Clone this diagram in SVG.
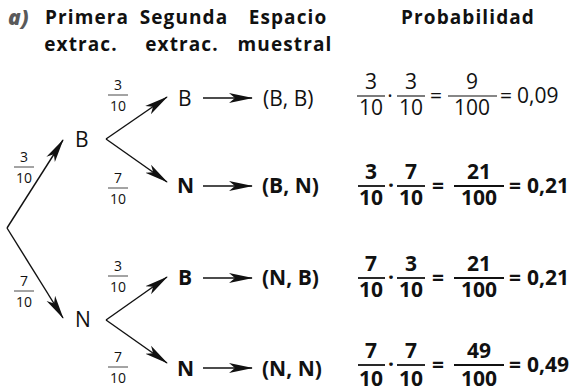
<svg xmlns="http://www.w3.org/2000/svg" width="579" height="391" viewBox="0 0 579 391">
<style>
text{font-family:"Open Sans","Noto Sans","Liberation Sans",sans-serif;fill:#111}
.h{font-size:19px;font-weight:bold;text-anchor:middle;letter-spacing:1.1px}
.a{font-size:21px;font-weight:800;font-style:italic;fill:#5a5a5a}
.lb{font-size:21px}
.b{font-weight:bold}
.sf{font-size:14px;text-anchor:middle}
.f{font-size:21px;text-anchor:middle}
.bar{stroke:#111;stroke-width:1.1}
.bbar{stroke:#111;stroke-width:1.8}
.sbar{stroke:#333;stroke-width:0.9}
.con{stroke:#111;stroke-width:1.4;fill:none}
</style>
<defs>
<marker id="ah" markerUnits="userSpaceOnUse" markerWidth="24" markerHeight="12" viewBox="0 0 24 12" refX="23" refY="6" orient="auto">
<path d="M0,1 L24,6 L0,11 L6,6 Z" fill="#111"/>
</marker>
</defs>
<g id="header">
<text class="a" x="8" y="25">a)</text>
<text class="h" x="87" y="24">Primera</text>
<text class="h" x="184" y="24">Segunda</text>
<text class="h" x="288" y="24">Espacio</text>
<text class="h" x="468" y="24">Probabilidad</text>
<text class="h" x="81" y="51">extrac.</text>
<text class="h" x="182" y="51">extrac.</text>
<text class="h" x="285" y="51">muestral</text>
</g>
<g id="connectors">
<line class="con" x1="7" y1="228" x2="63" y2="140" marker-end="url(#ah)"/>
<line class="con" x1="7" y1="228" x2="63" y2="318" marker-end="url(#ah)"/>
<line class="con" x1="106" y1="139" x2="167" y2="97" marker-end="url(#ah)"/>
<line class="con" x1="106" y1="139" x2="167" y2="182" marker-end="url(#ah)"/>
<line class="con" x1="106" y1="320" x2="167" y2="277" marker-end="url(#ah)"/>
<line class="con" x1="106" y1="320" x2="167" y2="363" marker-end="url(#ah)"/>
<line class="con" x1="203" y1="98" x2="252" y2="98" marker-end="url(#ah)"/>
<line class="con" x1="203" y1="186" x2="252" y2="186" marker-end="url(#ah)"/>
<line class="con" x1="203" y1="278" x2="252" y2="278" marker-end="url(#ah)"/>
<line class="con" x1="203" y1="368" x2="252" y2="368" marker-end="url(#ah)"/>
</g>
<g id="branch-labels">
<text class="sf" x="24" y="162">3</text><line class="sbar" x1="14" y1="167" x2="34" y2="167"/><text class="sf" x="24" y="183">10</text>
<text class="sf" x="24" y="286">7</text><line class="sbar" x1="14" y1="291" x2="34" y2="291"/><text class="sf" x="24" y="307">10</text>
<text class="sf" x="118" y="90">3</text><line class="sbar" x1="108" y1="95" x2="128" y2="95"/><text class="sf" x="118" y="111">10</text>
<text class="sf" x="118" y="183">7</text><line class="sbar" x1="108" y1="188" x2="128" y2="188"/><text class="sf" x="118" y="204">10</text>
<text class="sf" x="118" y="271">3</text><line class="sbar" x1="108" y1="276" x2="128" y2="276"/><text class="sf" x="118" y="292">10</text>
<text class="sf" x="118" y="362">7</text><line class="sbar" x1="108" y1="367" x2="128" y2="367"/><text class="sf" x="118" y="383">10</text>
</g>
<g id="node-B1"><text class="lb" x="75" y="147">B</text></g>
<g id="node-N1"><text class="lb" x="75" y="327">N</text></g>
<g id="node-BB"><text class="lb" x="178" y="106">B</text><text class="lb" x="263" y="106">(B, B)</text></g>
<g id="node-BN"><text class="lb b" x="177" y="193">N</text><text class="lb b" x="262" y="193">(B, N)</text></g>
<g id="node-NB"><text class="lb b" x="178" y="285">B</text><text class="lb b" x="262" y="285">(N, B)</text></g>
<g id="node-NN"><text class="lb b" x="177" y="376">N</text><text class="lb b" x="262" y="376">(N, N)</text></g>
<g id="prob-1">
<text class="f" x="371" y="89">3</text><line class="bar" x1="357" y1="96" x2="385" y2="96"/><text class="f" x="371" y="115">10</text>
<text class="f" x="390" y="103">·</text>
<text class="f" x="411" y="89">3</text><line class="bar" x1="397" y1="96" x2="425" y2="96"/><text class="f" x="411" y="115">10</text>
<text class="f" x="436" y="103">=</text>
<text class="f" x="472" y="89">9</text><line class="bar" x1="448" y1="96" x2="497" y2="96"/><text class="f" x="472" y="115">100</text>
<text class="f" x="506" y="103">=</text>
<text class="lb" x="517" y="103">0,09</text>
</g>
<g id="prob-2">
<text class="f b" x="371" y="179">3</text><line class="bbar" x1="358" y1="186" x2="385" y2="186"/><text class="f b" x="371" y="205">10</text>
<text class="f b" x="391" y="193">·</text>
<text class="f b" x="411" y="179">7</text><line class="bbar" x1="397" y1="186" x2="425" y2="186"/><text class="f b" x="411" y="205">10</text>
<text class="f b" x="438" y="193">=</text>
<text class="f b" x="479" y="179">21</text><line class="bbar" x1="454" y1="186" x2="504" y2="186"/><text class="f b" x="479" y="205">100</text>
<text class="f b" x="515" y="193">=</text>
<text class="lb b" x="527" y="193">0,21</text>
</g>
<g id="prob-3">
<text class="f b" x="371" y="271">7</text><line class="bbar" x1="358" y1="278" x2="385" y2="278"/><text class="f b" x="371" y="297">10</text>
<text class="f b" x="391" y="285">·</text>
<text class="f b" x="411" y="271">3</text><line class="bbar" x1="397" y1="278" x2="425" y2="278"/><text class="f b" x="411" y="297">10</text>
<text class="f b" x="438" y="285">=</text>
<text class="f b" x="479" y="271">21</text><line class="bbar" x1="454" y1="278" x2="504" y2="278"/><text class="f b" x="479" y="297">100</text>
<text class="f b" x="515" y="285">=</text>
<text class="lb b" x="527" y="285">0,21</text>
</g>
<g id="prob-4">
<text class="f b" x="371" y="358">7</text><line class="bbar" x1="358" y1="365" x2="385" y2="365"/><text class="f b" x="371" y="386">10</text>
<text class="f b" x="391" y="372">·</text>
<text class="f b" x="411" y="358">7</text><line class="bbar" x1="397" y1="365" x2="425" y2="365"/><text class="f b" x="411" y="386">10</text>
<text class="f b" x="438" y="372">=</text>
<text class="f b" x="479" y="358">49</text><line class="bbar" x1="454" y1="365" x2="504" y2="365"/><text class="f b" x="479" y="386">100</text>
<text class="f b" x="515" y="372">=</text>
<text class="lb b" x="527" y="372">0,49</text>
</g>
</svg>
